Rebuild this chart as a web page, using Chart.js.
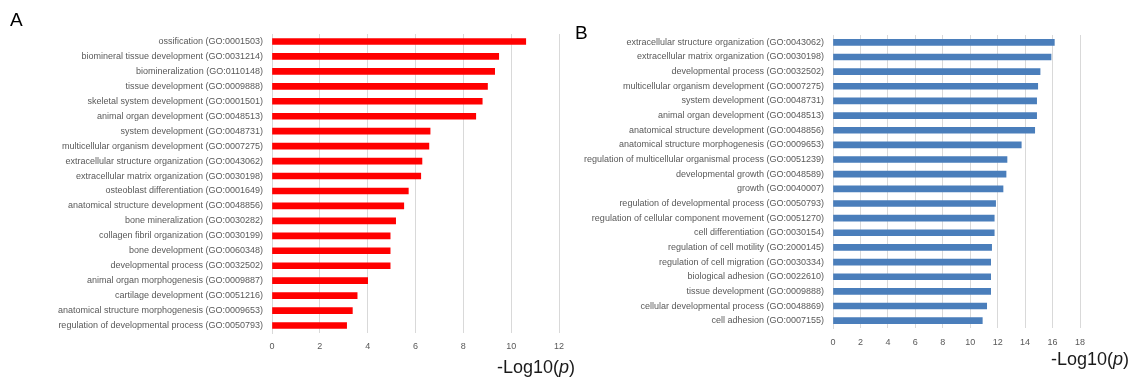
<!DOCTYPE html>
<html>
<head>
<meta charset="utf-8">
<script src="https://cdn.jsdelivr.net/npm/chart.js@4"></script>
<style>
  html, body { margin:0; padding:0; background:#fff; }
  body { width:1134px; height:380px; position:relative; overflow:hidden; font-family:"Liberation Sans", Arial, sans-serif; }
  .panel { position:absolute; top:0; height:380px; }
  .letter { position:absolute; font-size:19px; color:#000; line-height:1; }
  .xtitle { position:absolute; font-size:18px; color:#1a1a1a; line-height:1; white-space:nowrap; }
</style>
</head>
<body>
<div class="panel" id="pa" style="left:0;width:575px;"><canvas id="ca"></canvas></div>
<div class="panel" id="pb" style="left:575px;width:559px;"><canvas id="cb"></canvas></div>
<div class="letter" style="left:10px;top:10px;">A</div>
<div class="letter" style="left:575px;top:23px;">B</div>
<div class="xtitle" style="left:497px;top:358px;">-Log10(<i>p</i>)</div>
<div class="xtitle" style="left:1051px;top:350px;">-Log10(<i>p</i>)</div>
<script>
const catsA = [
  "ossification (GO:0001503)",
  "biomineral tissue development (GO:0031214)",
  "biomineralization (GO:0110148)",
  "tissue development (GO:0009888)",
  "skeletal system development (GO:0001501)",
  "animal organ development (GO:0048513)",
  "system development (GO:0048731)",
  "multicellular organism development (GO:0007275)",
  "extracellular structure organization (GO:0043062)",
  "extracellular matrix organization (GO:0030198)",
  "osteoblast differentiation (GO:0001649)",
  "anatomical structure development (GO:0048856)",
  "bone mineralization (GO:0030282)",
  "collagen fibril organization (GO:0030199)",
  "bone development (GO:0060348)",
  "developmental process (GO:0032502)",
  "animal organ morphogenesis (GO:0009887)",
  "cartilage development (GO:0051216)",
  "anatomical structure morphogenesis (GO:0009653)",
  "regulation of developmental process (GO:0050793)"
];
const valsA = [10.61, 9.48, 9.31, 9.01, 8.79, 8.52, 6.61, 6.56, 6.27, 6.22, 5.70, 5.51, 5.17, 4.94, 4.94, 4.94, 4.00, 3.56, 3.36, 3.12];

const catsB = [
  "extracellular structure organization (GO:0043062)",
  "extracellular matrix organization (GO:0030198)",
  "developmental process (GO:0032502)",
  "multicellular organism development (GO:0007275)",
  "system development (GO:0048731)",
  "animal organ development (GO:0048513)",
  "anatomical structure development (GO:0048856)",
  "anatomical structure morphogenesis (GO:0009653)",
  "regulation of multicellular organismal process (GO:0051239)",
  "developmental growth (GO:0048589)",
  "growth (GO:0040007)",
  "regulation of developmental process (GO:0050793)",
  "regulation of cellular component movement (GO:0051270)",
  "cell differentiation (GO:0030154)",
  "regulation of cell motility (GO:2000145)",
  "regulation of cell migration (GO:0030334)",
  "biological adhesion (GO:0022610)",
  "tissue development (GO:0009888)",
  "cellular developmental process (GO:0048869)",
  "cell adhesion (GO:0007155)"
];
const valsB = [16.13, 15.89, 15.09, 14.92, 14.84, 14.84, 14.70, 13.72, 12.68, 12.61, 12.39, 11.85, 11.75, 11.75, 11.56, 11.49, 11.49, 11.49, 11.20, 10.88];

const maxA = 12, maxB = 18, stepX = 2;
const FONT = "Liberation Sans";
const GREY = "#595959";
const GRID = "#d9d9d9";

function makeChart(id, cats, vals, color, xmax, yWidth, xHeight, padTop, padRight, tickPad) {
  return new Chart(document.getElementById(id), {
    type: 'bar',
    data: { labels: cats, datasets: [{ data: vals, backgroundColor: color, barThickness: 6, borderWidth: 0 }] },
    options: {
      indexAxis: 'y',
      responsive: true,
      maintainAspectRatio: false,
      animation: false,
      layout: { padding: { top: padTop, right: padRight, left: 0, bottom: 0 } },
      plugins: { legend: { display: false }, tooltip: { enabled: false } },
      scales: {
        x: {
          min: 0, max: xmax,
          ticks: { stepSize: stepX, color: GREY, font: { family: FONT, size: 9 }, padding: tickPad, maxRotation: 0 },
          grid: { color: GRID, drawTicks: false, tickLength: 0 },
          border: { display: false },
          afterFit(s) { s.height = xHeight; }
        },
        y: {
          ticks: { color: GREY, font: { family: FONT, size: 9 }, padding: 9, autoSkip: false },
          grid: { display: false, drawTicks: false, tickLength: 0 },
          border: { display: true, color: GRID },
          afterFit(s) { s.width = yWidth; }
        }
      }
    }
  });
}
makeChart('ca', catsA, valsA, '#ff0000', maxA, 272, 47, 34, 16, 8);
makeChart('cb', catsB, valsB, '#4a7ebb', maxB, 258, 52, 35, 54, 9);
</script>
</body>
</html>
